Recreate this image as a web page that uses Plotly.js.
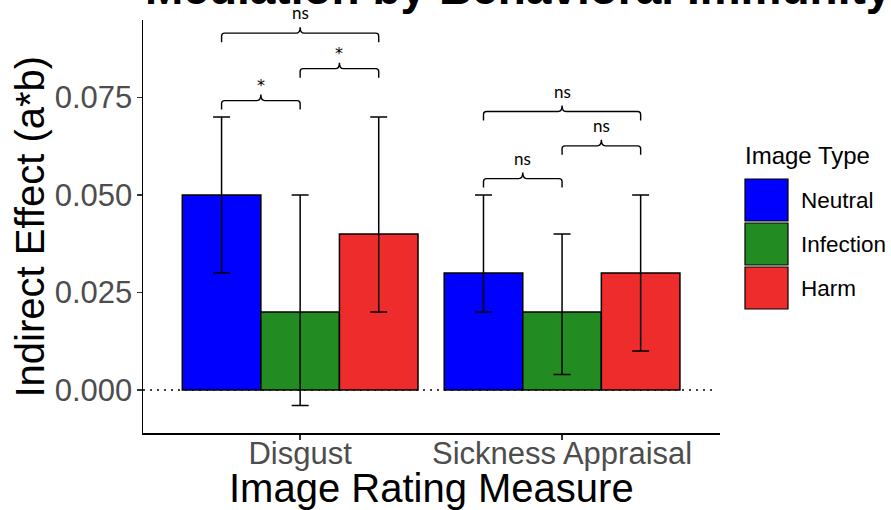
<!DOCTYPE html>
<html>
<head>
<meta charset="utf-8">
<script src="https://cdn.plot.ly/plotly-3.0.1.min.js"></script>
<style>html,body{margin:0;padding:0;background:#fff;}#chart{width:891px;height:510px;}</style>
</head>
<body>
<div id="chart"></div>
<script>
// ---------- data ----------
const categories = ['Disgust', 'Sickness Appraisal'];
const imageTypes = ['Neutral', 'Infection', 'Harm'];
const typeColors = ['#0000FF', '#228B22', '#EE2C2C'];

const neutralVals = [0.050, 0.030];
const neutralLow  = [0.030, 0.020];
const neutralHigh = [0.070, 0.050];

const infectionVals = [0.020, 0.020];
const infectionLow  = [-0.004, 0.004];
const infectionHigh = [0.050, 0.040];

const harmVals = [0.040, 0.030];
const harmLow  = [0.020, 0.010];
const harmHigh = [0.070, 0.050];

// significance comparisons
const compCategory = [0, 0, 0, 1, 1, 1];
const compFrom     = [0, 1, 0, 0, 1, 0];
const compTo       = [1, 2, 2, 1, 2, 2];
const compY        = [0.0742, 0.0824, 0.0915, 0.0542, 0.0626, 0.0714];
const compLabel    = ['*', '*', 'ns', 'ns', 'ns', 'ns'];

const yTicks = [0, 0.025, 0.05, 0.075];

// ---------- layout geometry ----------
const W = 891, H = 510;
const margin = {l: 143, r: 171, t: 20, b: 77};
const plotW = W - margin.l - margin.r;
const plotH = H - margin.t - margin.b;
const xRange = [-0.6, 1.603];
const yRange = [-0.011026, 0.09487];
const pxX = (xRange[1] - xRange[0]) / plotW;
const pxY = (yRange[1] - yRange[0]) / plotH;
const groupWidth = 0.9;
const barW = groupWidth / imageTypes.length;

const seriesVals = [neutralVals, infectionVals, harmVals];
const seriesLow = [neutralLow, infectionLow, harmLow];
const seriesHigh = [neutralHigh, infectionHigh, harmHigh];
const catIdx = categories.map((c, i) => i);

const traces = imageTypes.map((name, k) => ({
  type: 'bar',
  name: name,
  x: catIdx,
  y: seriesVals[k],
  marker: {color: typeColors[k], line: {color: '#000', width: 1.5}},
  error_y: {
    type: 'data', symmetric: false,
    array: seriesHigh[k].map((h, i) => h - seriesVals[k][i]),
    arrayminus: seriesVals[k].map((v, i) => v - seriesLow[k][i]),
    color: '#000', thickness: 1.5, width: 8.5
  },
  hoverinfo: 'skip'
}));

// ---------- brackets ----------
const shapes = [];
const annotations = [];
const tickDepth = 9 * pxY, rX = 3 * pxX, rY = 3 * pxY, cuspH = 6 * pxY, cuspRX = 4 * pxX;
function barCenter(cat, k) { return cat + (k - (imageTypes.length - 1) / 2) * barW; }
compY.forEach((y, i) => {
  const x1 = barCenter(compCategory[i], compFrom[i]);
  const x2 = barCenter(compCategory[i], compTo[i]);
  const xm = (x1 + x2) / 2;
  const p = `M ${x1},${y - tickDepth} L ${x1},${y - rY} Q ${x1},${y} ${x1 + rX},${y} ` +
            `L ${xm - cuspRX},${y} Q ${xm},${y} ${xm},${y + cuspH} ` +
            `Q ${xm},${y} ${xm + cuspRX},${y} L ${x2 - rX},${y} Q ${x2},${y} ${x2},${y - rY} L ${x2},${y - tickDepth}`;
  shapes.push({type: 'path', xref: 'x', yref: 'y', path: p, line: {color: '#000', width: 1.4}});
  const isStar = compLabel[i] === '*';
  annotations.push({
    x: xm, y: y, xref: 'x', yref: 'y', text: compLabel[i], showarrow: false,
    xanchor: 'center', yanchor: 'bottom', yshift: isStar ? 4 : 8,
    font: {family: isStar ? '"DejaVu Sans", sans-serif' : 'Lato, "Open Sans", sans-serif', size: isStar ? 16 : 17, color: '#000'}
  });
});

// zero reference line
shapes.push({type: 'line', xref: 'paper', yref: 'y', x0: 0, x1: (717 - margin.l) / plotW, y0: 0, y1: 0,
  line: {color: '#000', width: 1.5, dash: '2px,5px'}, layer: 'below'});

// ---------- manual legend ----------
const toPX = px => (px - margin.l) / plotW;
const toPY = py => (H - margin.b - py) / plotH;
const legTop = 178, legBox = 44;
imageTypes.forEach((name, k) => {
  const top = legTop + k * legBox;
  shapes.push({type: 'rect', xref: 'paper', yref: 'paper',
    x0: toPX(745), x1: toPX(788), y0: toPY(top + legBox - 1), y1: toPY(top + 1),
    fillcolor: typeColors[k], line: {color: '#000', width: 1.2}});
  annotations.push({xref: 'paper', yref: 'paper', x: toPX(799), y: toPY(top + legBox / 2),
    xanchor: 'left', yanchor: 'middle', text: name, showarrow: false,
    font: {family: '"Liberation Sans", Arial, sans-serif', size: 22.5, color: '#000'}});
});
annotations.push({xref: 'paper', yref: 'paper', x: toPX(743), y: toPY(155),
  xanchor: 'left', yanchor: 'middle', text: 'Image Type', showarrow: false,
  font: {family: '"Liberation Sans", Arial, sans-serif', size: 24, color: '#000'}});

// titles
annotations.push({xref: 'paper', yref: 'paper', x: 0, y: toPY(16.5), xanchor: 'left', yanchor: 'bottom',
  text: '<b>Mediation by Behavioral Immunity</b>', showarrow: false,
  font: {family: '"Liberation Sans", Arial, sans-serif', size: 46, color: '#000'}});
annotations.push({xref: 'paper', yref: 'paper', x: toPX(431), y: toPY(464), xanchor: 'center', yanchor: 'top',
  text: 'Image Rating Measure', showarrow: false,
  font: {family: '"Liberation Sans", Arial, sans-serif', size: 40, color: '#000'}});
annotations.push({xref: 'paper', yref: 'paper', x: toPX(29), y: toPY(226.5), xanchor: 'center', yanchor: 'middle',
  text: 'Indirect Effect (a*b)', textangle: -90, showarrow: false,
  font: {family: '"Liberation Sans", Arial, sans-serif', size: 40, color: '#000'}});

const layout = {
  width: W, height: H, margin: margin,
  paper_bgcolor: '#fff', plot_bgcolor: '#fff',
  barmode: 'group', bargap: 1 - groupWidth, bargroupgap: 0,
  showlegend: false,
  xaxis: {
    range: xRange, tickvals: catIdx, ticktext: categories,
    showgrid: false, zeroline: false, showline: true, linecolor: '#000', linewidth: 1.5,
    ticks: 'outside', ticklen: 5, tickwidth: 1.5, tickcolor: '#333', ticklabelstandoff: -13,
    tickfont: {family: '"Liberation Sans", Arial, sans-serif', size: 31, color: '#4D4D4D'}
  },
  yaxis: {
    range: yRange, tickvals: yTicks, tickformat: '.3f',
    showgrid: false, zeroline: false, showline: true, linecolor: '#000', linewidth: 1.5,
    ticks: 'outside', ticklen: 5, tickwidth: 1.5, tickcolor: '#333', ticklabelstandoff: -2,
    tickfont: {family: '"Liberation Sans", Arial, sans-serif', size: 31, color: '#4D4D4D'}
  },
  shapes: shapes,
  annotations: annotations
};

Plotly.newPlot('chart', traces, layout, {displayModeBar: false, staticPlot: true});
</script>
</body>
</html>
